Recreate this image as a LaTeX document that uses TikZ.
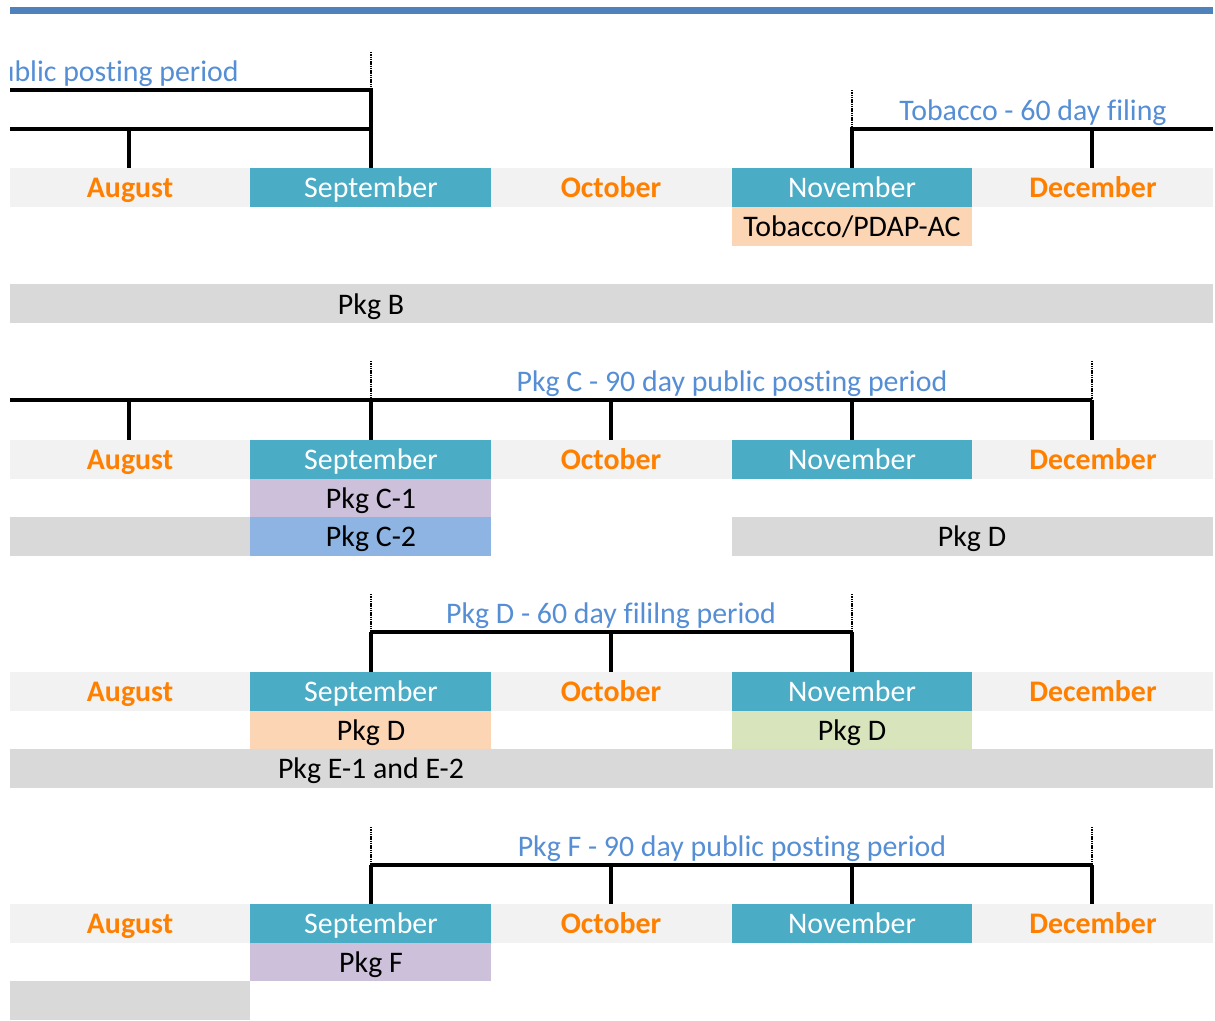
\documentclass[tikz,border=0pt]{standalone}
\usepackage{fontspec}
\setmainfont{Carlito}[Ligatures=NoCommon]
\usepackage{tikz}
\usepackage{xcolor}

\definecolor{barblue}{HTML}{4F81BD}
\definecolor{labelblue}{HTML}{558ED5}
\definecolor{monthorange}{HTML}{FF8000}
\definecolor{monthteal}{HTML}{4BACC6}
\definecolor{rowlight}{HTML}{F2F2F2}
\definecolor{rowgrey}{HTML}{D9D9D9}
\definecolor{pkgpeach}{HTML}{FCD5B4}
\definecolor{pkglilac}{HTML}{CCC0DA}
\definecolor{pkgblue}{HTML}{8DB4E2}
\definecolor{pkggreen}{HTML}{D8E4BC}

\begin{document}
\begin{tikzpicture}[x=0.75pt,y=0.75pt,yscale=-1,xscale=1,
  every node/.style={font=\fontsize{22.4}{26}\selectfont, inner sep=0.75pt, anchor=base},
  period/.style={text=labelblue},
  offmonth/.style={text=monthorange, font=\fontsize{22.4}{26}\selectfont\bfseries},
  onmonth/.style={text=white},
  bracket/.style={line width=2.4pt},
  marker/.style={line width=2pt, dash pattern={on 1.1pt off 0.6pt}}]
%set diagram size
\path (0,0) rectangle (1215,1021);

\begin{scope}
\clip (10,0) rectangle (1213,1021);

%Shape: Rectangle [top bar]
\fill [barblue] (10,7) rectangle (1213,14);

%Month rows
\foreach \r/\n in {168/1,440/2,672/3,904/4}{
  \fill [rowlight] (10,\r) rectangle (1213,\r+39);
  \fill [monthteal] (250,\r) rectangle (491,\r+39);
  \fill [monthteal] (732,\r) rectangle (972,\r+39);
  \node [offmonth] (aug\n) at (130,\r+29) {August};
  \node [onmonth] (sep\n) at (371,\r+29) {September};
  \node [offmonth] (oct\n) at (611,\r+29) {October};
  \node [onmonth] (nov\n) at (852,\r+29) {November};
  \node [offmonth] (dec\n) at (1093,\r+29) {December};
}

%Shape: Rectangle [package cells]
\fill [pkgpeach] (732,207) rectangle (972,246);
\fill [rowgrey] (10,284) rectangle (1213,323);
\fill [pkglilac] (250,479) rectangle (491,517);
\fill [rowgrey] (10,517) rectangle (250,556);
\fill [pkgblue] (250,517) rectangle (491,556);
\fill [rowgrey] (732,517) rectangle (1213,556);
\fill [pkgpeach] (250,711) rectangle (491,749);
\fill [pkggreen] (732,711) rectangle (972,749);
\fill [rowgrey] (10,749) rectangle (1213,788);
\fill [pkglilac] (250,943) rectangle (491,981);
\fill [rowgrey] (10,981) rectangle (250,1020);

% Text Node
\node (tobpdap) at (852,236) {Tobacco/PDAP-AC};
\node (pkgb) at (371,314) {Pkg B};
\node (pkgcone) at (371,508) {Pkg C-1};
\node (pkgctwo) at (371,546) {Pkg C-2};
\node (pkgdlate) at (972,546) {Pkg D};
\node (pkgdsep) at (371,740) {Pkg D};
\node (pkgdnov) at (852,740) {Pkg D};
\node (pkge) at (371,778) {Pkg E-1 and E-2};
\node (pkgf) at (371,972) {Pkg F};

%Straight Lines [first period]
\draw [bracket] (10,90) -- (371,90) -- (371,168);
\draw [bracket] (10,129) -- (371,129);
\draw [bracket] (129,129) -- (129,168);
\draw [marker] (371,52) -- (371,90);
\node [period, anchor=base east] (postA) at (240,81) {public posting period};

%Straight Lines [tobacco filing]
\draw [marker] (852,90) -- (852,129);
\draw [bracket] (852,168) -- (852,129) -- (1213,129);
\draw [bracket] (1092,129) -- (1092,168);
\node [period] (tobfiling) at (1033,120) {Tobacco - 60 day filing};

%Straight Lines [pkg C posting]
\draw [marker] (371,361) -- (371,400);
\draw [marker] (1092,361) -- (1092,400);
\draw [bracket] (10,400) -- (1092,400);
\foreach \t in {129,371,611,852,1092}
  \draw [bracket] (\t,400) -- (\t,440);
\node [period] (postC) at (732,391) {Pkg C - 90 day public posting period};

%Straight Lines [pkg D filing]
\draw [marker] (371,594) -- (371,632);
\draw [marker] (852,594) -- (852,632);
\draw [bracket] (371,632) -- (852,632);
\foreach \t in {371,611,852}
  \draw [bracket] (\t,632) -- (\t,672);
\node [period] (filingD) at (611,623) {Pkg D - 60 day fililng period};

%Straight Lines [pkg F posting]
\draw [marker] (371,827) -- (371,865);
\draw [marker] (1092,827) -- (1092,865);
\draw [bracket] (371,865) -- (1092,865);
\foreach \t in {371,611,852,1092}
  \draw [bracket] (\t,865) -- (\t,904);
\node [period] (postF) at (732,856) {Pkg F - 90 day public posting period};

\end{scope}
\end{tikzpicture}
\end{document}
